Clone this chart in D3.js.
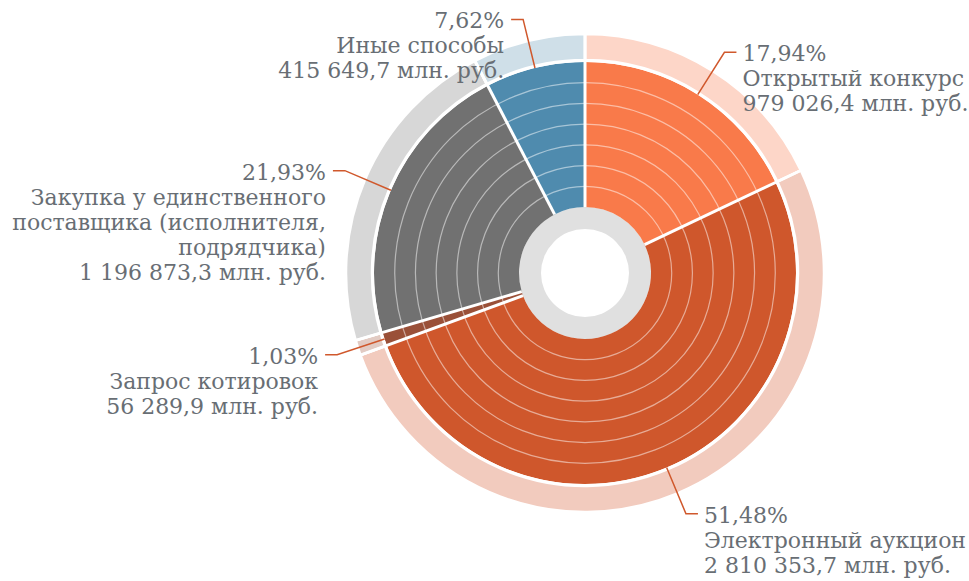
<!DOCTYPE html>
<html>
<head>
<meta charset="utf-8">
<script src="https://cdn.jsdelivr.net/npm/d3@7"></script>
<style>
  body { margin: 0; background: #fff; }
  svg text { font-family: "DejaVu Serif", serif; fill: #686e74; }
</style>
</head>
<body>
<svg id="chart" width="969" height="581"></svg>
<script>
// data
const categories = ["Открытый конкурс", "Электронный аукцион", "Запрос котировок",
  "Закупка у единственного поставщика (исполнителя, подрядчика)", "Иные способы"];
const nameLines = [["Открытый конкурс"], ["Электронный аукцион"], ["Запрос котировок"],
  ["Закупка у единственного", "поставщика (исполнителя,", "подрядчика)"], ["Иные способы"]];
const shares = [17.94, 51.48, 1.03, 21.93, 7.62];
const amounts = ["979 026,4", "2 810 353,7", "56 289,9", "1 196 873,3", "415 649,7"];
const solidColors = ["#f97a4a", "#cf572c", "#9a5038", "#717171", "#4f8bae"];
const lightColors = ["#fdd6c8", "#f2cbbe", "#e2cbc3", "#d7d7d7", "#cfdfe8"];

const width = 969, height = 581;
const cx = 585, cy = 273;
const rHole = 44, rHoleRing = 66, rSolid = 211, rOuterIn = 213, rOuter = 239;
const bands = 7, rElbow = 261;

const svg = d3.select("#chart");
const g = svg.append("g").attr("transform", `translate(${cx},${cy})`);

const pie = d3.pie().sort(null).value(d => d.share);
const data = categories.map((c, i) => ({
  name: c, lines: nameLines[i], share: shares[i], amount: amounts[i],
  solid: solidColors[i], light: lightColors[i]
}));
const arcs = pie(data);

// grey hole ring
g.append("path")
  .attr("d", d3.arc().innerRadius(rHole).outerRadius(rHoleRing)({startAngle: 0, endAngle: 2 * Math.PI}))
  .attr("fill", "#e0e0e0");

// outer light ring
const outerArc = d3.arc().innerRadius(rOuterIn).outerRadius(rOuter);
g.selectAll(".outer").data(arcs).enter().append("path")
  .attr("class", "outer")
  .attr("d", outerArc)
  .attr("fill", d => d.data.light)
  .attr("stroke", "#fff").attr("stroke-width", 2.5);

// solid segments
const solidArc = d3.arc().innerRadius(rHoleRing).outerRadius(rSolid);
g.selectAll(".solid").data(arcs).enter().append("path")
  .attr("class", "solid")
  .attr("d", solidArc)
  .attr("fill", d => d.data.solid);

// thin concentric band lines
const bandScale = d3.scaleLinear().domain([0, bands]).range([rHoleRing, rSolid]);
d3.range(1, bands).forEach(b => {
  g.append("circle")
    .attr("r", bandScale(b))
    .attr("fill", "none")
    .attr("stroke", "rgba(255,255,255,0.5)")
    .attr("stroke-width", 1.2);
});

// separators between segments
arcs.forEach(a => {
  const ang = a.startAngle;
  g.append("line")
    .attr("x1", Math.sin(ang) * rHoleRing).attr("y1", -Math.cos(ang) * rHoleRing)
    .attr("x2", Math.sin(ang) * (rOuter + 1)).attr("y2", -Math.cos(ang) * (rOuter + 1))
    .attr("stroke", "#fff").attr("stroke-width", 3);
});
g.append("circle").attr("r", rSolid + 1).attr("fill", "none")
  .attr("stroke", "#fff").attr("stroke-width", 2);

// labels with connectors
const fontSize = 22, lineH = 25;
arcs.forEach(a => {
  const mid = (a.startAngle + a.endAngle) / 2;
  const sx = Math.sin(mid), sy = -Math.cos(mid);
  const right = sx > 0;
  const ex = sx * rElbow, ey = sy * rElbow;
  const hx = ex + (right ? 12 : -12);
  g.append("polyline")
    .attr("points", [[sx * rSolid, sy * rSolid], [ex, ey], [hx, ey]].map(p => p.join(",")).join(" "))
    .attr("fill", "none").attr("stroke", "#d0582c").attr("stroke-width", 1.5);

  const lines = [a.data.share.toFixed(2).replace(".", ",") + "%"]
    .concat(a.data.lines, [a.data.amount + " млн. руб."]);
  const t = g.append("text")
    .attr("text-anchor", right ? "start" : "end")
    .attr("font-size", fontSize);
  lines.forEach((l, i) => {
    t.append("tspan")
      .attr("x", hx + (right ? 6 : -7))
      .attr("y", ey + 9 + i * lineH)
      .text(l);
  });
});
</script>
</body>
</html>
